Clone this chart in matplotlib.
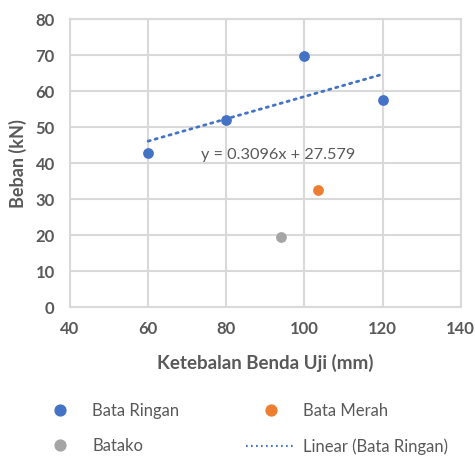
import matplotlib
matplotlib.use("Agg")
import matplotlib.pyplot as plt
from matplotlib.lines import Line2D
import numpy as np

# Data
ringan_x = [60, 80, 100, 120]
ringan_y = [42.8, 51.9, 69.8, 57.5]
merah_x = [103.4]
merah_y = [32.6]
batako_x = [93.9]
batako_y = [19.6]
trend_slope = 0.3096
trend_intercept = 27.579

xticks = [40, 60, 80, 100, 120, 140]
yticks = [0, 10, 20, 30, 40, 50, 60, 70, 80]

BLUE = "#4472C4"
ORANGE = "#ED7D31"
GRAY = "#A5A5A5"
TEXT = "#595959"
GRID = "#D9D9D9"

plt.rcParams['font.family'] = ['Lato', 'DejaVu Sans']

fig = plt.figure(figsize=(4.75, 4.57), dpi=100)
ax = fig.add_axes([70/475, 1-307.3/457, (460.7-70)/475, (307.3-19.3)/457])

ax.set_xlim(40, 140)
ax.set_ylim(0, 80)
ax.set_xticks(xticks)
ax.set_yticks(yticks)
ax.grid(True, color=GRID, linewidth=1.5)
ax.set_axisbelow(True)
for s in ax.spines.values():
    s.set_color(GRID)
    s.set_linewidth(1.5)
ax.tick_params(length=0, labelsize=12, labelcolor=TEXT)
ax.tick_params(axis='y', pad=11)
ax.tick_params(axis='x', pad=10)
for lab in ax.get_xticklabels() + ax.get_yticklabels():
    lab.set_fontweight('bold')

ms = 60
ax.scatter(ringan_x, ringan_y, s=ms, color=BLUE, zorder=3, linewidths=0)
ax.scatter(merah_x, merah_y, s=ms, color=ORANGE, zorder=3, linewidths=0)
ax.scatter(batako_x, batako_y, s=ms, color=GRAY, zorder=3, linewidths=0)

tx = np.array([min(ringan_x), max(ringan_x)])
ty = trend_slope * tx + trend_intercept
ax.plot(tx, ty, color=BLUE, linewidth=2, linestyle=(0, (0.8, 1.8)),
        dash_capstyle='round', zorder=2)

ax.text(93.2, 42.3, f"y = {trend_slope}x + {trend_intercept}", ha='center',
        va='center', fontsize=11.7, color=TEXT)

ax.set_xlabel("Ketebalan Benda Uji (mm)", fontsize=13.5, fontweight='bold',
              color=TEXT, labelpad=12)
ax.set_ylabel("Beban (kN)", fontsize=13, fontweight='bold', color=TEXT,
              labelpad=6)

handles = [
    Line2D([], [], marker='o', linestyle='none', color=BLUE, markersize=7.8),
    Line2D([], [], marker='o', linestyle='none', color=GRAY, markersize=7.8),
    Line2D([], [], marker='o', linestyle='none', color=ORANGE, markersize=7.8),
    Line2D([], [], color=BLUE, linewidth=1.5, linestyle=(0, (0.8, 1.6))),
]
labels = ["Bata Ringan", "Batako", "Bata Merah", "Linear (Bata Ringan)"]
leg = fig.legend(handles, labels, ncol=2, loc='center left',
                 bbox_to_anchor=(35/475, 1 - 429/457), frameon=False,
                 borderpad=0, borderaxespad=0,
                 fontsize=12, labelcolor=TEXT, columnspacing=3.96,
                 handlelength=3.0, handletextpad=0.45, labelspacing=1.15)

fig.savefig("out.png", dpi=100, facecolor='white')
